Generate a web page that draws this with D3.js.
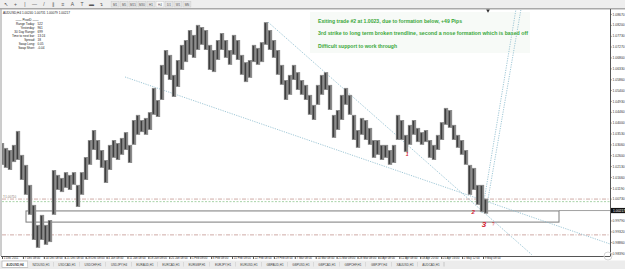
<!DOCTYPE html>
<html>
<head>
<meta charset="utf-8">
<script src="https://cdn.jsdelivr.net/npm/d3@7"></script>
<style>
  body { margin: 0; background: #fff; }
  svg { display: block; font-family: "Liberation Sans", Arial, sans-serif; }
</style>
</head>
<body>
<script>
// Define SVG area dimensions
var svgWidth = 625;
var svgHeight = 269;

// bar highs / lows (AUDUSD H4), one entry per plotted bar
var barHigh = [1.0312,1.0291,1.0282,1.0304,1.0364,1.0261,1.0218,1.0132,1.0046,0.9960,
  1.0003,0.9960,0.9981,1.0196,1.0175,1.0162,1.0187,1.0175,1.0187,1.0132,
  1.0187,1.0252,1.0325,1.0368,1.0325,1.0282,1.0239,1.0304,1.0325,1.0312,
  1.0334,1.0359,1.0304,1.0411,1.0433,1.0411,1.0420,1.0445,1.0549,1.0497,
  1.0648,1.0712,1.0691,1.0605,1.0669,1.0734,1.0755,1.0798,1.0777,1.0820,
  1.0811,1.0798,1.0734,1.0712,1.0755,1.0785,1.0755,1.0712,1.0777,1.0755,
  1.0691,1.0660,1.0669,1.0734,1.0721,1.0746,1.0832,1.0798,1.0755,1.0712,
  1.0648,1.0583,1.0605,1.0648,1.0617,1.0583,1.0562,1.0519,1.0476,1.0562,
  1.0605,1.0617,1.0562,1.0433,1.0454,1.0519,1.0549,1.0519,1.0433,1.0368,
  1.0420,1.0411,1.0377,1.0325,1.0325,1.0304,1.0304,1.0282,1.0304,1.0433,
  1.0411,1.0347,1.0390,1.0411,1.0377,1.0359,1.0368,1.0325,1.0304,1.0347,
  1.0402,1.0463,1.0454,1.0390,1.0347,1.0325,1.0282,1.0218,1.0205,1.0132,
  1.0132,1.0073];
var barLow = [1.0218,1.0205,1.0196,1.0230,1.0239,1.0153,1.0089,1.0003,0.9895,0.9861,
  0.9895,0.9874,0.9886,1.0003,1.0110,1.0101,1.0119,1.0110,1.0132,1.0037,
  1.0089,1.0153,1.0218,1.0282,1.0239,1.0205,1.0140,1.0196,1.0248,1.0239,
  1.0261,1.0282,1.0226,1.0304,1.0347,1.0359,1.0347,1.0368,1.0433,1.0424,
  1.0497,1.0605,1.0583,1.0510,1.0553,1.0626,1.0660,1.0691,1.0678,1.0712,
  1.0734,1.0712,1.0626,1.0617,1.0669,1.0712,1.0678,1.0648,1.0691,1.0669,
  1.0605,1.0574,1.0592,1.0660,1.0648,1.0660,1.0734,1.0712,1.0678,1.0605,
  1.0562,1.0497,1.0519,1.0583,1.0540,1.0519,1.0497,1.0433,1.0411,1.0476,
  1.0519,1.0540,1.0454,1.0334,1.0368,1.0411,1.0476,1.0433,1.0325,1.0291,
  1.0347,1.0325,1.0304,1.0248,1.0261,1.0239,1.0248,1.0218,1.0226,1.0325,
  1.0325,1.0273,1.0304,1.0347,1.0316,1.0304,1.0316,1.0248,1.0239,1.0282,
  1.0325,1.0390,1.0377,1.0325,1.0291,1.0261,1.0218,1.0089,1.0110,1.0046,
  1.0015,1.0008];

var priceTicks = ["1.08670","1.08200","1.07730","1.07270","1.06800","1.06330","1.05860",
  "1.05400","1.04930","1.04460","1.04000","1.03530","1.03060","1.02600","1.02130",
  "1.01660","1.01190","1.00730","1.00260","0.99790","0.99320","0.98860","0.98390"];

var timeLabels = ["1 Dec 2011","7 Dec 08:00","14 Dec 08:00","21 Dec 08:00","28 Dec 08:00",
  "4 Jan 08:00","11 Jan 08:00","18 Jan 08:00","25 Jan 08:00","1 Feb 08:00","8 Feb 08:00",
  "15 Feb 08:00","22 Feb 08:00","29 Feb 08:00","7 Mar 08:00","14 Mar 08:00","21 Mar 08:00",
  "28 Mar 08:00","4 Apr 08:00","12 Apr 08:00","18 Apr 20:00","25 Apr 16:00","2 May 12:00",
  "9 May 08:00"];

var tabNames = ["AUDUSD,H4","NZDUSD,H1","USDCAD,H1","USDCHF,H1","USDJPY,H4","EURAUD,H1",
  "EURCAD,H1","EURGBP,H1","EURJPY,H1","EURUSD,H1","GBPAUD,H1","GBPUSD,H1","GBPCAD,H1",
  "GBPCHF,H1","GBPJPY,H4","XAUUSD,H1","AUDCAD,H1"];

var timeframes = ["M1","M5","M15","M30","H1","H4","D1","W1","MN"];

var lastClose = 1.00217;
var headerText = "AUDUSD,H4  1.00240 1.00731 1.00079 1.00217";

var pivotRows = [["Range Today:","522"],["Yesterday:","961"],["30 Day Range:","699"],
  ["Time to next bar:","13:24"],["Spread:","18"],["Swap Long:","0.05"],["Swap Short:","-0.04"]];

var notes = ["Exiting trade #2 at 1.0023, due to formation below, +49 Pips",
  "3rd strike to long term broken trendline, second a nose formation which is based off",
  "Difficult support to work through"];

// horizontal levels: [price, colour, dash]
var levels = [[1.0071, "#c9a29c", "4,1.5,1,1.5"], [1.0060, "#9fcf9f", "2,1.5"],
  [0.9917, "#c9a29c", "4,1.5,1,1.5"]];

// support box [barIndex0, barIndex1, priceTop, priceBottom]
var supportBox = [6, 139.25, 1.0020, 0.9972];

// trendlines as [[barIndex, price], [barIndex, price]]
var trendLines = [
  [[30.75, 1.0596], [152, 0.9878]],
  [[66.5, 1.0832], [132.5, 0.9831]],
  [[120, 1.0011], [128.5, 1.0888]],
  [[121.25, 1.0046], [129.75, 1.0888]]
];

// red wave counts [barIndex, price, text, size]
var waveMarks = [[101.3, 1.0258, "1", 5], [117.8, 1.0008, "2", 6], [120.5, 0.9953, "3", 8]];

// plot area
var plot = { left: 2, right: 610, top: 10, bottom: 256 };

var svg = d3.select("body").append("svg")
  .attr("width", svgWidth)
  .attr("height", svgHeight);

var x = d3.scaleLinear().domain([0, barHigh.length - 1]).range([2, 486]);
var y = d3.scaleLinear().domain([0.98176, 1.08883]).range([258, 9]);

svg.append("defs").append("clipPath").attr("id", "plotclip")
  .append("rect")
  .attr("x", plot.left).attr("y", plot.top)
  .attr("width", plot.right - plot.left).attr("height", plot.bottom - plot.top);

// toolbar
svg.append("rect").attr("x", 0).attr("y", 0).attr("width", svgWidth).attr("height", 9)
  .attr("fill", "#eeeeee");
svg.append("rect").attr("x", 0).attr("y", 8).attr("width", svgWidth).attr("height", 1.5)
  .attr("fill", "#a9a9a9");
var toolIcons = ["\u2196", "+", "|", "\u2014", "/", "\u2225", "\u2261", "A", "T", "\u25ac", "\u21b4"];
svg.append("g").selectAll("text").data(toolIcons).enter().append("text")
  .attr("x", (d, i) => 6 + i * 9.5)
  .attr("y", 6.3)
  .attr("text-anchor", "middle")
  .attr("font-size", 5)
  .attr("fill", "#555")
  .text(d => d);
var tfBand = d3.scaleBand().domain(timeframes).range([110, 192]).padding(0.12);
svg.append("g").selectAll("rect").data(timeframes).enter().append("rect")
  .attr("x", d => tfBand(d)).attr("y", 1.5)
  .attr("width", tfBand.bandwidth()).attr("height", 5.5)
  .attr("fill", d => d === "H4" ? "#fafafa" : "#e6e6e6")
  .attr("stroke", "#c4c4c4").attr("stroke-width", 0.4);
svg.append("g").selectAll("text").data(timeframes).enter().append("text")
  .attr("x", d => tfBand(d) + tfBand.bandwidth() / 2).attr("y", 5.6)
  .attr("text-anchor", "middle").attr("font-size", 3).attr("fill", "#555")
  .text(d => d);

// chart frame
svg.append("line").attr("x1", 1).attr("x2", 1).attr("y1", 9).attr("y2", plot.bottom)
  .attr("stroke", "#9a9a9a").attr("stroke-width", 1);

// faint note background
svg.append("rect").attr("x", 310).attr("y", 12).attr("width", 220).attr("height", 41)
  .attr("fill", "#f7faf7");

var chartGroup = svg.append("g").attr("clip-path", "url(#plotclip)");

// horizontal levels
chartGroup.selectAll(".level").data(levels).enter().append("line")
  .attr("class", "level")
  .attr("x1", plot.left).attr("x2", plot.right)
  .attr("y1", d => y(d[0])).attr("y2", d => y(d[0]))
  .attr("stroke", d => d[1]).attr("stroke-width", 0.9)
  .attr("stroke-dasharray", d => d[2]);

// support box
chartGroup.append("rect")
  .attr("x", x(supportBox[0])).attr("y", y(supportBox[2]))
  .attr("width", x(supportBox[1]) - x(supportBox[0]))
  .attr("height", y(supportBox[3]) - y(supportBox[2]))
  .attr("fill", "none").attr("stroke", "#7a7a7a").attr("stroke-width", 1);

// bid line
chartGroup.append("line")
  .attr("x1", x(supportBox[1])).attr("x2", plot.right)
  .attr("y1", y(lastClose)).attr("y2", y(lastClose))
  .attr("stroke", "#8a8a8a").attr("stroke-width", 0.8);

// trendlines
chartGroup.selectAll(".trend").data(trendLines).enter().append("line")
  .attr("class", "trend")
  .attr("x1", d => x(d[0][0])).attr("y1", d => y(d[0][1]))
  .attr("x2", d => x(d[1][0])).attr("y2", d => y(d[1][1]))
  .attr("stroke", "#86b9cc").attr("stroke-width", 0.8)
  .attr("stroke-dasharray", "1.2,1.2");

// price bars: soft body + dark core for the dense H4 texture
chartGroup.selectAll(".bar").data(barHigh).enter().append("line")
  .attr("class", "bar")
  .attr("x1", (d, i) => x(i)).attr("x2", (d, i) => x(i))
  .attr("y1", d => y(d))
  .attr("y2", (d, i) => y(barLow[i]))
  .attr("stroke", "#8c8c8c").attr("stroke-width", 4.3);
chartGroup.selectAll(".core").data(barHigh).enter().append("line")
  .attr("class", "core")
  .attr("x1", (d, i) => x(i) - 0.6).attr("x2", (d, i) => x(i) - 0.6)
  .attr("y1", (d, i) => y(d) + 1)
  .attr("y2", (d, i) => y(barLow[i]) - 1)
  .attr("stroke", "#3e3e3e").attr("stroke-width", 1.6);

// wave counts
chartGroup.selectAll(".wave").data(waveMarks).enter().append("text")
  .attr("class", "wave")
  .attr("x", d => x(d[0])).attr("y", d => y(d[1]))
  .attr("font-size", d => d[3]).attr("font-weight", "bold").attr("font-style", "italic")
  .attr("fill", "#d3202e").attr("text-anchor", "middle")
  .text(d => d[2]);
chartGroup.append("text")
  .attr("x", x(waveMarks[2][0]) + 8).attr("y", y(waveMarks[2][1]) - 1)
  .attr("font-size", 4.5).attr("fill", "#d3202e").text("?");

// level label on the left
svg.append("text").attr("x", 3).attr("y", y(levels[0][0]) - 0.6)
  .attr("font-size", 3).attr("fill", "#8a7a70").text("T:1.00710");

// notes
svg.selectAll(".note").data(notes).enter().append("text")
  .attr("class", "note")
  .attr("x", 318).attr("y", (d, i) => 22.7 + i * 12.4)
  .attr("font-size", 5).attr("font-weight", "bold").attr("fill", "#3aa83a")
  .attr("textLength", (d, i) => [144, 210, 79][i])
  .attr("lengthAdjust", "spacingAndGlyphs")
  .text(d => d);

// header + pivot panel
svg.append("text").attr("x", 3).attr("y", 13.8).attr("font-size", 3.2).attr("fill", "#222")
  .attr("textLength", 67).attr("lengthAdjust", "spacingAndGlyphs").text(headerText);
svg.append("text").attr("x", 27).attr("y", 20.5).attr("text-anchor", "middle")
  .attr("font-size", 3.1).attr("fill", "#222").text("\u2014\u2014  PivotD  \u2014\u2014");
var pivotG = svg.append("g");
pivotG.selectAll(".plab").data(pivotRows).enter().append("text")
  .attr("x", 35).attr("y", (d, i) => 24.8 + i * 4.1)
  .attr("text-anchor", "end").attr("font-size", 3.1).attr("fill", "#222")
  .text(d => d[0]);
pivotG.selectAll(".pval").data(pivotRows).enter().append("text")
  .attr("x", 37.5).attr("y", (d, i) => 24.8 + i * 4.1)
  .attr("font-size", 3.1).attr("fill", "#222")
  .text(d => d[1]);

// chart shift marker
svg.append("path").attr("d", d3.symbol().type(d3.symbolTriangle).size(6)())
  .attr("transform", "translate(" + 488 + ",10.5) rotate(180)").attr("fill", "#333");

// right price axis
var rightAxis = d3.axisRight(y)
  .tickValues(priceTicks.map(Number))
  .tickFormat((d, i) => priceTicks[i])
  .tickSize(1.5);
var yAxisG = svg.append("g")
  .attr("transform", "translate(" + plot.right + ",0)")
  .call(rightAxis);
yAxisG.select(".domain").attr("stroke", "#555").attr("d", "M0.5," + 9 + "V" + plot.bottom);
yAxisG.selectAll("text").attr("font-size", 3.4).attr("fill", "#333").attr("x", 2.5);
yAxisG.selectAll("line").attr("stroke", "#555");

// current price label
svg.append("rect").attr("x", 611).attr("y", y(lastClose) - 2.6).attr("width", 14).attr("height", 5.2)
  .attr("fill", "#111");
svg.append("text").attr("x", 613).attr("y", y(lastClose) + 1.2).attr("font-size", 3.4)
  .attr("fill", "#fff").text(lastClose.toFixed(5));

// bottom time axis
var xTime = d3.scaleLinear().domain([0, timeLabels.length - 1]).range([2, 483]);
svg.append("line").attr("x1", 1).attr("x2", plot.right + 0.5).attr("y1", plot.bottom + 0.5)
  .attr("y2", plot.bottom + 0.5).attr("stroke", "#555");
var bottomAxis = d3.axisBottom(xTime)
  .tickValues(d3.range(timeLabels.length))
  .tickFormat(i => timeLabels[i])
  .tickSize(2.5);
var xAxisG = svg.append("g")
  .attr("transform", "translate(0," + (plot.bottom + 0.5) + ")")
  .call(bottomAxis);
xAxisG.select(".domain").remove();
xAxisG.selectAll("line").attr("stroke", "#555");
xAxisG.selectAll("text").attr("font-size", 2.9).attr("fill", "#333")
  .attr("text-anchor", "start").attr("x", 1.2).attr("y", 0.5).attr("dy", "0.71em");

// symbol tabs
svg.append("rect").attr("x", 0).attr("y", 260.5).attr("width", svgWidth).attr("height", 8.5)
  .attr("fill", "#ececec");
var tabBand = d3.scaleBand().domain(tabNames).range([2, 444]);
var tabs = svg.append("g").selectAll("g").data(tabNames).enter().append("g")
  .attr("transform", d => "translate(" + tabBand(d) + ",261)");
tabs.append("rect").attr("width", tabBand.bandwidth()).attr("height", 6.5)
  .attr("fill", (d, i) => i === 0 ? "#ffffff" : "#ececec")
  .attr("stroke", (d, i) => i === 0 ? "#999" : "none").attr("stroke-width", 0.5);
tabs.append("line").attr("x1", tabBand.bandwidth()).attr("x2", tabBand.bandwidth())
  .attr("y1", 1).attr("y2", 5.5).attr("stroke", "#a0a0a0").attr("stroke-width", 0.5);
tabs.append("text").attr("x", tabBand.bandwidth() / 2).attr("y", 4.5)
  .attr("text-anchor", "middle").attr("font-size", 3)
  .attr("font-weight", (d, i) => i === 0 ? "bold" : "normal")
  .attr("fill", "#444").text(d => d);

// watermark
svg.append("circle").attr("cx", 608).attr("cy", 256).attr("r", 4)
  .attr("fill", "none").attr("stroke", "#d6d6d6").attr("stroke-width", 1);
</script>
</body>
</html>
